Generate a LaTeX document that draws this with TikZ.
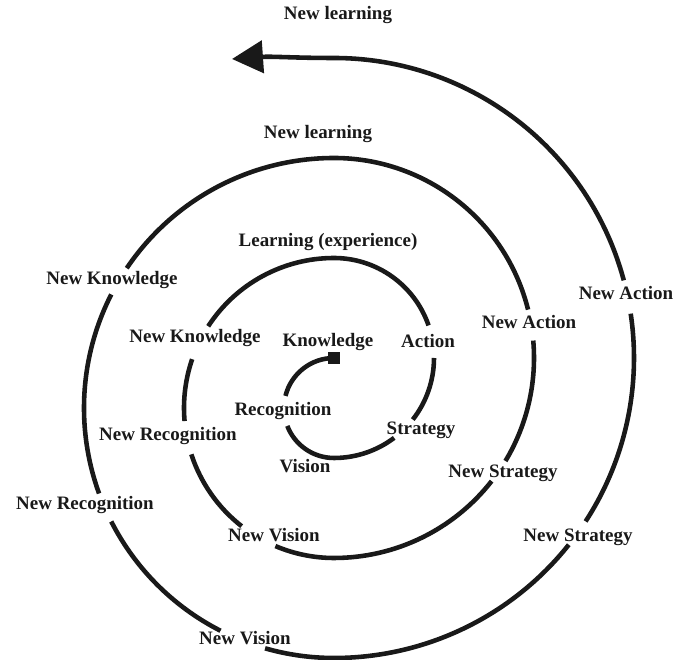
\documentclass[tikz,border=0pt]{standalone}
\usepackage{fontspec}
\setmainfont{Liberation Serif}
\usetikzlibrary{arrows.meta}

\tikzset{
  spiral/.style={line width=2.6pt,black!90},
  lbl/.style={font=\bfseries\fontsize{10.8}{13}\selectfont,text=black!90,inner sep=0pt}
}

\begin{document}
\begin{tikzpicture}
	\useasboundingbox (0,0) rectangle (13.48,13.2);
	% two centres of the half turns
	\coordinate (c1) at (6.68,5.04);
	\coordinate (c2) at (6.68,6.04);
	\coordinate (tip) at (4.64,12.02);

	% inner turn
	\node(start) at (c2)[fill=black!90,minimum size=0.24cm,inner sep=0pt]{};
	\draw[spiral](c1) ++(90:1) arc[start angle=90,end angle=166,radius=1];
	\draw[spiral](c1) ++(201:1) arc[start angle=201,end angle=270,radius=1] arc[start angle=-90,end angle=-53,radius=2];
	\draw[spiral](c2) ++(-38:2) arc[start angle=-38,end angle=0,radius=2];
	\draw[spiral](c2) ++(19:2) arc[start angle=19,end angle=90,radius=2] arc[start angle=90,end angle=147,radius=3];
	% middle turn
	\draw[spiral](c1) ++(161:3) arc[start angle=161,end angle=185,radius=3];
	\draw[spiral](c1) ++(198:3) arc[start angle=198,end angle=232,radius=3];
	\draw[spiral](c1) ++(247:3) arc[start angle=247,end angle=270,radius=3] arc[start angle=-90,end angle=-38,radius=4];
	\draw[spiral](c2) ++(-31:4) arc[start angle=-31,end angle=5,radius=4];
	\draw[spiral](c2) ++(14:4) arc[start angle=14,end angle=90,radius=4] arc[start angle=90,end angle=146,radius=5];
	% outer turn
	\draw[spiral](c1) ++(153:5) arc[start angle=153,end angle=200,radius=5];
	\draw[spiral](c1) ++(207:5) arc[start angle=207,end angle=243,radius=5];
	\draw[spiral](c1) ++(254:5) arc[start angle=254,end angle=270,radius=5] arc[start angle=-90,end angle=-38.5,radius=6];
	\draw[spiral](c2) ++(-33:6) arc[start angle=-33,end angle=8.5,radius=6];
	\draw[spiral,-{Triangle[length=0.62cm,width=0.64cm]}](c2) ++(15:6) arc[start angle=15,end angle=90,radius=6] to[out=180,in=4] (tip);

	% labels
	\node(know) at (6.56,6.36)[lbl]{Knowledge};
	\node(act) at (8.56,6.38)[lbl]{Action};
	\node(strat) at (8.42,4.60)[lbl]{Strategy};
	\node(vis) at (6.10,3.88)[lbl]{Vision};
	\node(recog) at (5.66,4.98)[lbl]{Recognition};
	\node(learn) at (6.56,8.36)[lbl]{Learning (experience)};
	\node(nknowB) at (3.90,6.44)[lbl]{New Knowledge};
	\node(nrecogB) at (3.36,4.48)[lbl]{New Recognition};
	\node(nvisB) at (5.48,2.50)[lbl]{New Vision};
	\node(nstratB) at (10.06,3.74)[lbl]{New Strategy};
	\node(nactB) at (10.58,6.76)[lbl]{New Action};
	\node(nlearnB) at (6.36,10.52)[lbl]{New learning};
	\node(nknowC) at (2.24,7.60)[lbl]{New Knowledge};
	\node(nrecogC) at (1.70,3.10)[lbl]{New Recognition};
	\node(nvisC) at (4.90,0.44)[lbl]{New Vision};
	\node(nstratC) at (11.56,2.46)[lbl]{New Strategy};
	\node(nactC) at (12.52,7.34)[lbl]{New Action};
	\node(nlearnC) at (6.76,12.90)[lbl]{New learning};
\end{tikzpicture}
\end{document}
